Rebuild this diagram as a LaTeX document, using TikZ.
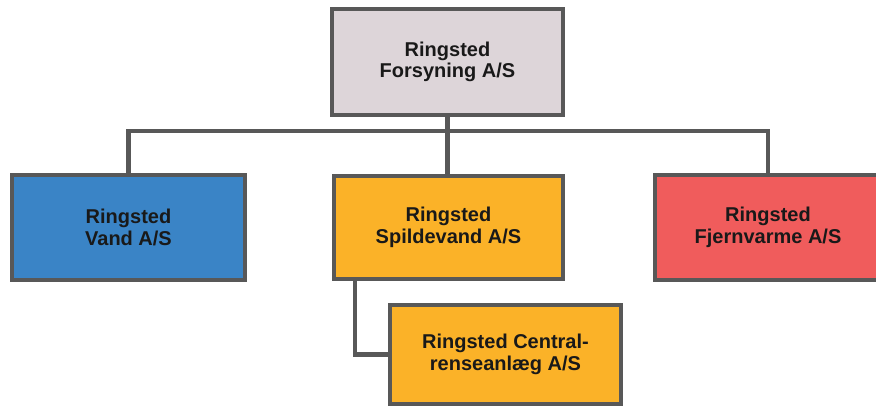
\documentclass[tikz,border=0pt]{standalone}
\usepackage{fontspec}
\setmainfont{Liberation Sans}
\usepackage{tikz}
\definecolor{ashgray}{RGB}{221, 213, 217}
\definecolor{steelblue}{RGB}{58, 132, 198}
\definecolor{amber}{RGB}{251, 178, 40}
\definecolor{coral}{RGB}{240, 92, 92}
\definecolor{slate}{RGB}{88, 88, 88}
\tikzset{
    company/.style={draw=slate, line width=4pt, align=center, inner sep=0pt,
                    font=\fontsize{20}{21.5}\selectfont\bfseries, text=black!90},
    link/.style={draw=slate, line width=4.5pt, line join=miter}
}

\begin{document}
\begin{tikzpicture}[x=1pt, y=-1pt]
        \useasboundingbox (0,0) rectangle (876,409);
            \node[company, fill=ashgray,   minimum width=231pt, minimum height=106pt] (forsyning) at (447.5, 62.0) {Ringsted\\Forsyning A/S};
            \node[company, fill=steelblue, minimum width=233pt, minimum height=105pt] (vand)      at (128.5,227.5) {Ringsted\\Vand A/S};
            \node[company, fill=amber,     minimum width=229pt, minimum height=102pt] (spilde)    at (448.5,227.5) {Ringsted\\Spildevand A/S};
            \node[company, fill=coral,     minimum width=226pt, minimum height=105pt] (fjern)     at (768.0,227.5) {Ringsted\\Fjernvarme A/S};
            \node[company, fill=amber,     minimum width=231pt, minimum height= 99pt] (central)   at (505.5,354.5) {Ringsted Central-\\renseanl\ae g A/S};
            \draw[link] (forsyning.south) -- ++(0,14) coordinate (bus);
            \draw[link] (vand.north) |- (bus) -| (fjern.north);
            \draw[link] (bus) -- (bus |- spilde.north);
            \draw[link] ([xshift=23pt]spilde.south west) |- (central.west);
        \end{tikzpicture}
\end{document}
